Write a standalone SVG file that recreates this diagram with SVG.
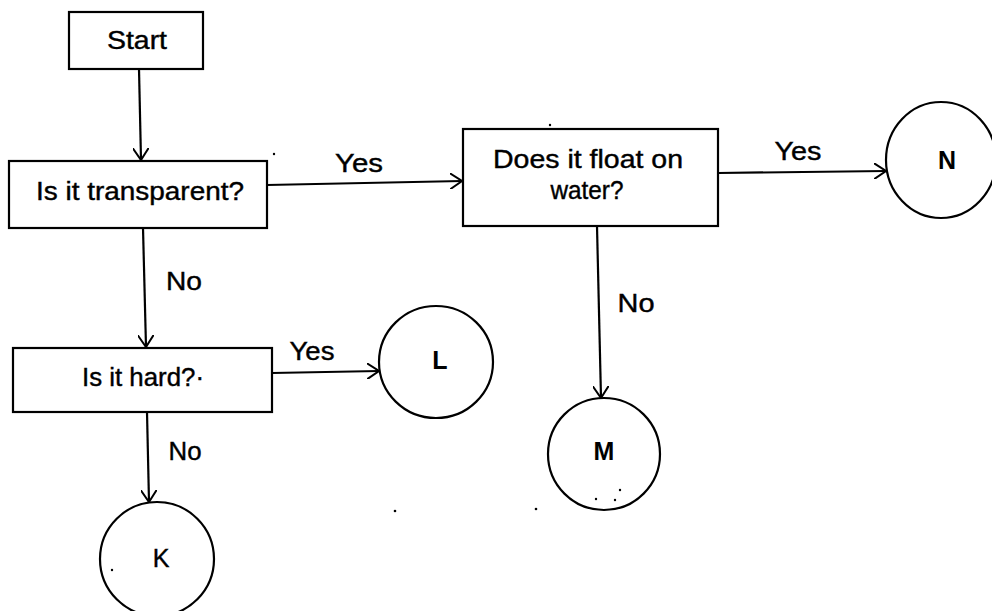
<svg xmlns="http://www.w3.org/2000/svg" width="992" height="611" viewBox="0 0 992 611">
  <defs>
    <marker id="arr" viewBox="0 0 12 16" refX="12" refY="8" markerWidth="12" markerHeight="16" markerUnits="userSpaceOnUse" orient="auto">
      <path d="M0,0 L12,8 L0,16" fill="none" stroke="#000" stroke-width="2"/>
    </marker>
    <style>
      .box { fill: #fff; stroke: #000; stroke-width: 2.2; }
      .circ { fill: #fff; stroke: #000; stroke-width: 2.2; }
      .conn { fill: none; stroke: #000; stroke-width: 2.2; marker-end: url(#arr); }
      text { font-family: "Liberation Sans", Arial, sans-serif; font-size: 25px; fill: #000; stroke: #000; stroke-width: 0.4; text-anchor: middle; }
      .lbl { font-size: 25px; }
      .let { font-size: 25px; font-weight: bold; stroke-width: 0; }
      .dot { fill: #000; }
    </style>
  </defs>
  <rect width="992" height="611" fill="#fff"/>

  <g id="connectors">
    <line class="conn" x1="139" y1="69" x2="141" y2="160"/>
    <line class="conn" x1="267" y1="185" x2="462" y2="181"/>
    <line class="conn" x1="143" y1="228" x2="146" y2="347"/>
    <line class="conn" x1="718" y1="173" x2="886" y2="171"/>
    <line class="conn" x1="597" y1="226" x2="601" y2="398"/>
    <line class="conn" x1="272" y1="373" x2="379" y2="371"/>
    <line class="conn" x1="147" y1="412" x2="149" y2="502"/>
    <text class="lbl" x="359" y="172" textLength="48" lengthAdjust="spacingAndGlyphs">Yes</text>
    <text class="lbl" x="184" y="290" textLength="36" lengthAdjust="spacingAndGlyphs">No</text>
    <text class="lbl" x="798" y="160" textLength="47" lengthAdjust="spacingAndGlyphs">Yes</text>
    <text class="lbl" x="636" y="312" textLength="37" lengthAdjust="spacingAndGlyphs">No</text>
    <text class="lbl" x="312" y="360" textLength="45" lengthAdjust="spacingAndGlyphs">Yes</text>
    <text class="lbl" x="185" y="460" textLength="33" lengthAdjust="spacingAndGlyphs">No</text>
  </g>

  <g id="start">
    <rect class="box" x="69" y="12" width="134" height="57"/>
    <text x="137" y="49" textLength="60" lengthAdjust="spacingAndGlyphs">Start</text>
  </g>

  <g id="transparent">
    <rect class="box" x="9" y="161" width="258" height="67"/>
    <text x="140" y="200" textLength="208" lengthAdjust="spacingAndGlyphs">Is it transparent?</text>
  </g>

  <g id="float">
    <rect class="box" x="463" y="129" width="255" height="97"/>
    <text x="588" y="168" textLength="190" lengthAdjust="spacingAndGlyphs">Does it float on</text>
    <text x="587" y="199" textLength="73" lengthAdjust="spacingAndGlyphs">water?</text>
  </g>

  <g id="hard">
    <rect class="box" x="13" y="348" width="259" height="64"/>
    <text x="143" y="386" textLength="122" lengthAdjust="spacingAndGlyphs">Is it hard?·</text>
  </g>

  <g id="N">
    <ellipse class="circ" cx="941" cy="160" rx="55" ry="58"/>
    <text class="let" x="947" y="169">N</text>
  </g>

  <g id="L">
    <ellipse class="circ" cx="436" cy="362" rx="57" ry="56"/>
    <text class="let" x="440" y="369">L</text>
  </g>

  <g id="M">
    <ellipse class="circ" cx="604" cy="454" rx="56" ry="56"/>
    <text class="let" x="604" y="460">M</text>
  </g>

  <g id="K">
    <ellipse class="circ" cx="157" cy="559" rx="57" ry="57"/>
    <text class="let" x="161" y="567" style="font-weight:normal;stroke-width:0.4">K</text>
  </g>

  <g id="specks">
    <circle class="dot" cx="274" cy="154" r="1.2"/>
    <circle class="dot" cx="550" cy="125" r="1.2"/>
    <circle class="dot" cx="395" cy="511" r="1.3"/>
    <circle class="dot" cx="536" cy="509" r="1.3"/>
    <circle class="dot" cx="112" cy="570" r="1.2"/>
    <circle class="dot" cx="596" cy="499" r="1.2"/>
    <circle class="dot" cx="615" cy="500" r="1.2"/>
    <circle class="dot" cx="620" cy="490" r="1.2"/>
  </g>
</svg>
